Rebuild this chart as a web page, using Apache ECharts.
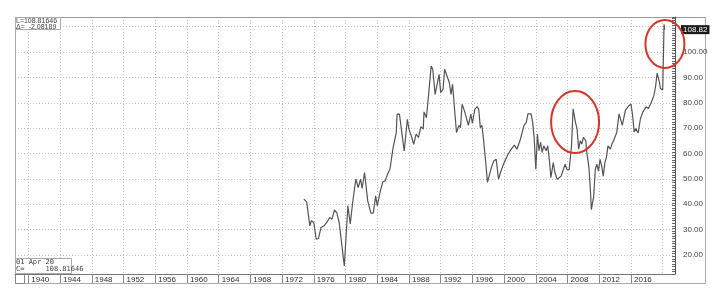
<!DOCTYPE html>
<html>
<head>
<meta charset="utf-8">
<script src="https://cdn.jsdelivr.net/npm/echarts@6/dist/echarts.min.js"></script>
<style>
html,body{margin:0;padding:0;background:#fff;}
#c{width:721px;height:300px;}
</style>
</head>
<body>
<div id="c"></div>
<script>
var years = [
1974.75,1975.1,1975.5,1975.7,1976.0,1976.3,1976.6,1976.9,1977.3,1977.7,1978.0,1978.3,1978.6,1978.9,1979.2,1979.4,1979.85,
1980.3,1980.6,1980.9,1981.3,1981.6,1981.9,1982.1,1982.4,1982.8,1983.2,1983.5,1983.8,1984.0,1984.4,1984.7,1985.0,1985.3,1985.6,
1986.0,1986.4,1986.5,1986.8,1987.1,1987.4,1987.6,1987.8,1988.0,1988.3,1988.6,1988.9,1989.2,1989.5,1989.8,1989.9,1990.2,1990.4,
1990.5,1990.8,1991.0,1991.3,1991.5,1991.8,1992.0,1992.3,1992.5,1992.7,1993.1,1993.3,1993.5,1993.8,1994.0,1994.3,1994.5,1994.7,
1995.0,1995.2,1995.5,1995.8,1996.0,1996.3,1996.6,1996.8,1997.0,1997.2,1997.4,1997.7,1997.9,1998.1,1998.4,1998.7,1999.0,1999.3,
1999.6,2000.0,2000.5,2000.9,2001.3,2001.6,2002.0,2002.2,2002.5,2002.8,2003.0,2003.2,2003.4,2003.6,2003.8,2004.0,2004.2,2004.4,
2004.6,2004.8,2005.0,2005.3,2005.5,2005.7,2005.9,2006.2,2006.4,2006.7,2006.9,2007.2,2007.5,2007.7,2007.9,2008.2,2008.5,2008.7,
2009.0,2009.2,2009.4,2009.6,2009.8,2010.0,2010.3,2010.4,2010.7,2010.9,2011.0,2011.3,2011.5,2011.7,2011.9,2012.1,2012.3,2012.5,
2012.7,2012.9,2013.1,2013.4,2013.6,2013.8,2014.0,2014.2,2014.5,2014.9,2015.3,2015.7,2016.0,2016.2,2016.4,2016.6,2016.9,2017.2,
2017.5,2017.7,2017.9,2018.2,2018.5,2018.7,2018.9,2019.1,2019.3,2019.4,2019.6,2019.7,2019.9,2020.0,2020.17,2020.25
];
var values = [
42.0,40.9,31.5,33.5,32.8,26.2,26.5,30.8,31.5,33.1,34.8,34.1,37.8,36.7,32.8,32.2,15.7,
39.4,32.2,40.7,49.9,46.6,49.9,46.2,52.5,41.3,36.5,36.5,43.3,39.4,45.3,48.8,49.2,51.8,53.8,
62.3,68.2,75.5,75.5,68.2,61.0,60.4,73.5,69.6,66.9,63.6,67.6,66.3,70.6,69.6,76.4,74.1,73.5,
84.0,94.5,93.2,83.3,84.0,91.2,84.0,85.3,93.2,92.5,87.9,83.3,87.3,75.5,68.2,71.1,70.2,79.4,
76.8,77.4,71.1,75.5,71.9,77.4,78.5,77.4,70.2,71.1,65.6,55.8,48.6,47.9,54.5,57.1,57.7,49.9,
53.1,56.4,59.7,61.7,63.3,61.7,65.0,64.4,71.0,72.3,75.6,76.3,75.6,72.3,65.7,53.8,67.7,61.1,
64.4,60.4,63.0,61.1,63.0,57.7,50.5,56.4,52.5,49.8,49.5,51.1,54.0,55.8,53.8,53.5,63.0,77.6,
72.3,69.7,61.7,65.0,63.7,66.4,65.0,61.1,54.4,44.5,37.9,43.2,53.8,55.8,53.1,57.7,55.1,51.1,
56.4,58.4,63.0,61.7,63.7,65.0,64.4,68.3,75.6,71.1,77.1,78.7,79.5,75.1,68.5,69.8,68.1,73.8,
76.4,75.8,78.4,77.7,79.7,81.3,83.0,86.4,91.7,91.9,87.9,85.7,85.3,85.0,110.89835,108.81646
];
var xLabelYears = [1940,1944,1948,1952,1956,1960,1964,1968,1972,1976,1980,1984,1988,1992,1996,2000,2004,2008,2012,2016];
var xGridYears = [1940,1944,1948,1952,1956,1960,1964,1968,1972,1976,1980,1984,1988,1992,1996,2000,2004,2008,2012,2016,2020];
var yLabelValues = [20,30,40,50,60,70,80,90,100];
var yGridValues = [20,30,40,50,60,70,80,90,100,110];
var lastDate = '01 Apr 20';
var circles = [[2008.95, 72.4, 24, 31], [2020.28, 103.2, 19.5, 24]];

var lastValue = values[values.length - 1];
var prevValue = values[values.length - 2];
var delta = lastValue - prevValue;

var data = years.map(function (y, i) { return [y, values[i]]; });

var FONT = 'Liberation Sans';
var YMIN = 12.5, YMAX = 113.8;
var chart = echarts.init(document.getElementById('c'), null, {renderer: 'canvas'});
var option = {
  animation: false,
  backgroundColor: '#fff',
  grid: {left: 15, right: 46, top: 17, bottom: 26, containLabel: false},
  xAxis: [{
    type: 'value', min: 1938.32, max: 2021.55, position: 'bottom',
    axisLine: {show: true, lineStyle: {color: '#777', width: 1}},
    axisTick: {show: true, customValues: xLabelYears, length: 9, lineStyle: {color: '#888'}},
    axisLabel: {show: true, customValues: xLabelYears, formatter: function (v) { return String(v); },
      align: 'left', verticalAlign: 'top', margin: 2, padding: [0, 0, 0, 3],
      fontFamily: FONT, fontSize: 8, color: '#333'},
    splitLine: {show: false}
  }, {
    type: 'value', min: 1938.32, max: 2021.55, position: 'bottom',
    axisLine: {show: false}, axisLabel: {show: false},
    axisTick: {show: false, customValues: xGridYears},
    splitLine: {show: true, lineStyle: {color: '#c4c4c4', type: [1, 2], width: 1}}
  }],
  yAxis: [{
    type: 'value', min: YMIN, max: YMAX, position: 'right',
    axisLine: {show: true, lineStyle: {color: '#555', width: 1}},
    axisTick: {show: false, customValues: yGridValues},
    axisLabel: {show: true, customValues: yLabelValues, formatter: function (v) { return v.toFixed(2); },
      margin: 8, fontFamily: FONT, fontSize: 8, color: '#444'},
    splitLine: {show: true, lineStyle: {color: '#c4c4c4', type: [1, 2], width: 1}}
  }, {
    type: 'value', min: YMIN, max: YMAX, position: 'right', interval: 1,
    axisLine: {show: false}, axisLabel: {show: false},
    axisTick: {show: true, inside: true, length: 3, lineStyle: {color: '#666'}},
    splitLine: {show: false}
  }, {
    type: 'value', min: YMIN, max: YMAX, position: 'right',
    axisLine: {show: false}, splitLine: {show: false},
    axisTick: {show: false, customValues: [lastValue]},
    axisLabel: {show: true, customValues: [lastValue], formatter: function (v) { return v.toFixed(2); },
      margin: 6, fontFamily: FONT, fontSize: 8, color: '#fff', backgroundColor: '#1a1a1a', padding: [1, 2, 0, 2]}
  }],
  series: [{
    type: 'line', data: data, xAxisIndex: 0, yAxisIndex: 0,
    showSymbol: false, symbol: 'none',
    lineStyle: {color: '#555', width: 1.2}
  }]
};
chart.setOption(option);

var g = [];
g.push({type: 'rect', shape: {x: 15.5, y: 17.5, width: 690, height: 266}, style: {fill: null, stroke: '#aaa', lineWidth: 1}, silent: true});
g.push({type: 'line', shape: {x1: 15.5, y1: 17.5, x2: 705.5, y2: 17.5}, style: {stroke: '#999', lineWidth: 1}});
g.push({type: 'rect', shape: {x: 15.5, y: 274.5, width: 9, height: 9}, style: {fill: '#fff', stroke: '#888', lineWidth: 1}});
g.push({type: 'rect', shape: {x: 15.5, y: 17.5, width: 45, height: 12}, style: {fill: '#fff', stroke: '#aaa', lineWidth: 1}});
g.push({type: 'text', x: 16, y: 18, style: {text: 'L=' + lastValue.toFixed(5), fontFamily: FONT, fontSize: 7, fill: '#444'}});
g.push({type: 'text', x: 16, y: 24, style: {text: '\u0394=  ' + delta.toFixed(5), fontFamily: FONT, fontSize: 7, fill: '#444'}});
g.push({type: 'rect', shape: {x: 15.5, y: 258.5, width: 56, height: 15}, style: {fill: '#fff', stroke: '#aaa', lineWidth: 1}});
g.push({type: 'text', x: 16, y: 259, style: {text: lastDate, fontFamily: 'DejaVu Sans Mono', fontSize: 7, fill: '#444'}});
g.push({type: 'text', x: 16, y: 266, style: {text: 'C=     ' + lastValue.toFixed(5), fontFamily: 'DejaVu Sans Mono', fontSize: 7, fill: '#444'}});
circles.forEach(function (c) {
  var p = chart.convertToPixel({xAxisIndex: 0, yAxisIndex: 0}, [c[0], c[1]]);
  g.push({type: 'ellipse', shape: {cx: p[0], cy: p[1], rx: c[2], ry: c[3]}, style: {fill: null, stroke: '#d8342a', lineWidth: 2}, z: 100});
});
chart.setOption({graphic: g});
</script>
</body>
</html>
